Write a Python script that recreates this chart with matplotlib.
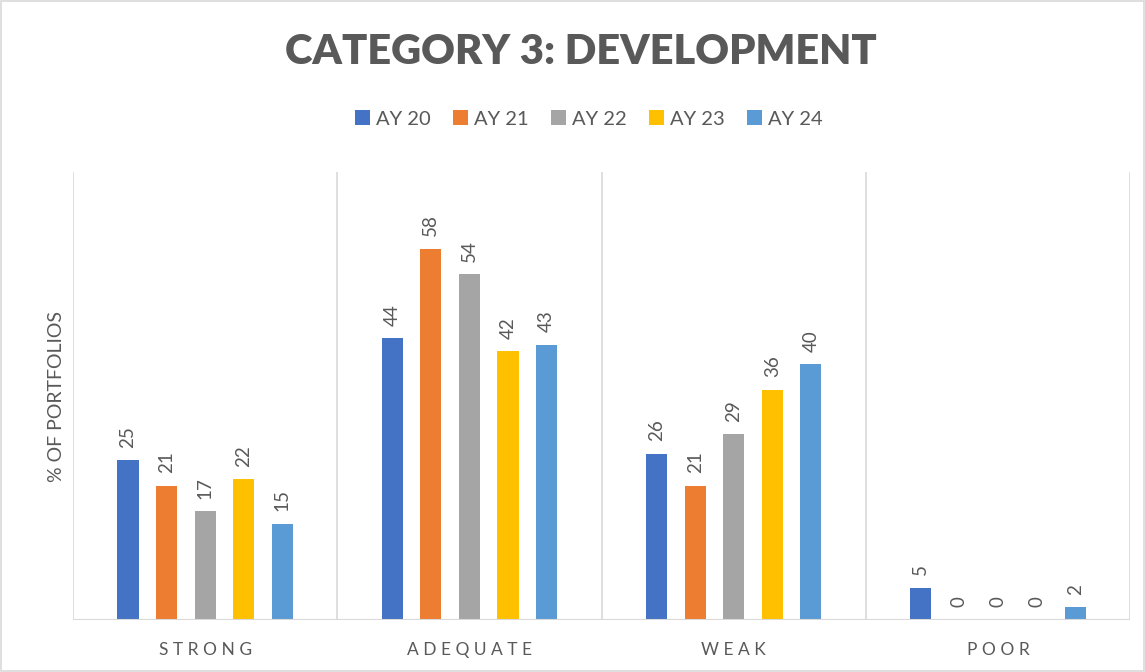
import matplotlib.pyplot as plt
import numpy as np

categories = ["STRONG", "ADEQUATE", "WEAK", "POOR"]
series = ["AY 20", "AY 21", "AY 22", "AY 23", "AY 24"]
ay20 = [25, 44, 26, 5]
ay21 = [21, 58, 21, 0]
ay22 = [17, 54, 29, 0]
ay23 = [22, 42, 36, 0]
ay24 = [15, 43, 40, 2]
colors = ["#4472C4", "#ED7D31", "#A5A5A5", "#FFC000", "#5B9BD5"]

plt.rcParams['font.family'] = ['Lato', 'DejaVu Sans']
txt = "#595959"
grid = "#D9D9D9"

fig = plt.figure(figsize=(11.45, 6.72), dpi=100)
ax = fig.add_axes([0.0638, 0.0774, 0.9232, 0.6666])

x = np.arange(len(categories)) + 0.5
slot = 0.146
width = 0.08
values = [ay20, ay21, ay22, ay23, ay24]
for i, (name, vals) in enumerate(zip(series, values)):
    pos = x + (i - 2) * slot
    ax.bar(pos, vals, width, color=colors[i], label=name, zorder=3)
    for p, v in zip(pos, vals):
        ax.annotate(str(v), (p, v), xytext=(0, 9), textcoords="offset points",
                    rotation=90, ha="center", va="bottom", fontsize=13.5, color=txt)

ax.set_xlim(0, len(categories))
ax.set_ylim(0, 70)
for b in range(len(categories) + 1):
    ax.axvline(b, color=grid, lw=1.2, zorder=1)
for s in ax.spines.values():
    s.set_visible(False)
ax.axhline(0, color=grid, lw=1.5, zorder=4)
ax.set_yticks([])
ax.set_xticks(x)
ax.set_xticklabels([" ".join(c) for c in categories], fontsize=12.5, color=txt)
ax.tick_params(axis="x", length=0, pad=16)
ax.set_ylabel("% OF PORTFOLIOS", fontsize=14, color=txt, labelpad=6)

fig.text(0.507, 0.923, "CATEGORY 3: DEVELOPMENT",
         ha="center", va="center", fontsize=30, fontweight="heavy", color=txt)
fig.legend(loc="center", bbox_to_anchor=(0.514, 0.823), ncol=5, frameon=False,
           fontsize=14.5, handlelength=0.75, handleheight=0.75, handletextpad=0.3,
           columnspacing=1.1, labelcolor=txt)

fig.patches.append(plt.Rectangle((0.001, 0.001), 0.998, 0.998, transform=fig.transFigure,
                                 fill=False, edgecolor=grid, lw=1.2))
fig.savefig("out.png", dpi=100)
